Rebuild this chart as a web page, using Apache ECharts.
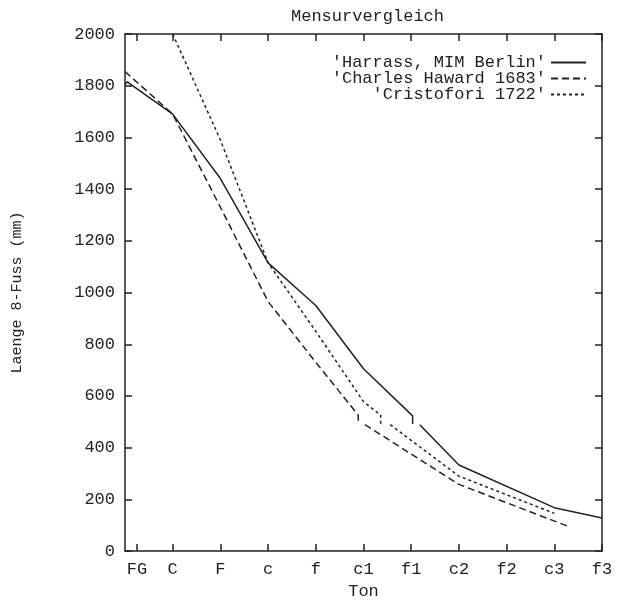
<!DOCTYPE html>
<html>
<head>
<meta charset="utf-8">
<title>Mensurvergleich</title>
<script src="https://cdn.jsdelivr.net/npm/echarts@6.0.0/dist/echarts.min.js"></script>
<style>
  html, body { margin: 0; padding: 0; background: #fff; }
  #chart { width: 617px; height: 605px; }
</style>
</head>
<body>
<div id="chart"></div>
<script>
// Ton-Achse: Position und Name der Teilstriche
var tonPos = [0.25, 1, 2, 3, 4, 5, 6, 7, 8, 9, 10];
var tonNames = ['FG', 'C', 'F', 'c', 'f', 'c1', 'f1', 'c2', 'f2', 'c3', 'f3'];

// Harrass, MIM Berlin (null = Unterbrechung der Linie)
var harrassX = [0, 0.05, 0.12, 1, 2, 3, 4, 5, 6.03, 6.03, 6.1, 6.18, 7, 9, 10];
var harrassY = [1805, 1815, 1805, 1690, 1441, 1115, 950, 705, 523, 492, null, 489, 333, 168, 128];

// Charles Haward 1683
var hawardX = [0, 1, 2, 3, 4, 4.89, 4.89, 4.95, 5.03, 7, 9.3];
var hawardY = [1855, 1690, 1330, 965, 730, 526, 491, null, 489, 258, 95];

// Cristofori 1722
var cristoforiX = [1, 2, 3, 4, 5, 5.36, 5.36, 5.45, 5.56, 7, 9];
var cristoforiY = [2000, 1590, 1115, 850, 578, 526, 491, null, 489, 290, 146];

var fontMono = '"Liberation Mono", "DejaVu Sans Mono", monospace';
var ink = '#222';

function pairs(xs, ys) {
	var out = [];
	for (var i = 0; i < xs.length; i++) {
		out.push([xs[i], ys[i]]);
	}
	return out;
}

function tonLabel(v) {
	for (var i = 0; i < tonPos.length; i++) {
		if (Math.abs(tonPos[i] - v) < 1e-6) return tonNames[i];
	}
	return '';
}

function legendFor(name, top) {
	return {
		data: [name],
		right: 30,
		top: top,
		orient: 'vertical',
		align: 'right',
		itemWidth: 35,
		itemHeight: 12,
		padding: 0,
		selectedMode: false,
		// nur die Linie, kein Symbol
		itemStyle: { opacity: 0 },
		textStyle: { fontFamily: fontMono, fontSize: 17, color: ink }
	};
}

var myChart = echarts.init(document.getElementById('chart'));

option = {
	animation: false,
	backgroundColor: '#fff',
	title: {
		text: 'Mensurvergleich',
		left: 286,
		top: 3,
		textStyle: { fontFamily: fontMono, fontSize: 17, fontWeight: 'normal', color: ink }
	},
	legend: [
		legendFor("'Harrass, MIM Berlin'", 54),
		legendFor("'Charles Haward 1683'", 70),
		legendFor("'Cristofori 1722'", 86)
	],
	grid: { left: 125, right: 15, top: 34, bottom: 45 },
	xAxis: [
		{
			type: 'value', min: 0, max: 10, position: 'bottom',
			name: 'Ton', nameLocation: 'middle', nameGap: 29,
			nameTextStyle: { fontFamily: fontMono, fontSize: 17, color: ink },
			axisLine: { show: true, onZero: false, lineStyle: { color: ink, width: 1.5 } },
			axisTick: { show: true, inside: true, length: 7, customValues: tonPos, lineStyle: { color: ink, width: 1.5 } },
			axisLabel: { customValues: tonPos, formatter: tonLabel, margin: 10, fontFamily: fontMono, fontSize: 17, color: ink },
			splitLine: { show: false }
		},
		{
			type: 'value', min: 0, max: 10, position: 'top',
			axisLine: { show: true, onZero: false, lineStyle: { color: ink, width: 1.5 } },
			axisTick: { show: true, inside: true, length: 7, customValues: tonPos, lineStyle: { color: ink, width: 1.5 } },
			axisLabel: { show: false },
			splitLine: { show: false }
		}
	],
	yAxis: [
		{
			type: 'value', min: 0, max: 2000, interval: 200, position: 'left',
			name: 'Laenge 8-Fuss (mm)', nameLocation: 'middle', nameGap: 100,
			nameTextStyle: { fontFamily: fontMono, fontSize: 15, color: ink },
			axisLine: { show: true, onZero: false, lineStyle: { color: ink, width: 1.5 } },
			axisTick: { show: true, inside: true, length: 7, lineStyle: { color: ink, width: 1.5 } },
			axisLabel: {
				margin: 10, fontFamily: fontMono, fontSize: 17, color: ink,
				formatter: function (v) { return String(v); }
			},
			splitLine: { show: false }
		},
		{
			type: 'value', min: 0, max: 2000, interval: 200, position: 'right',
			axisLine: { show: true, onZero: false, lineStyle: { color: ink, width: 1.5 } },
			axisTick: { show: true, inside: true, length: 7, lineStyle: { color: ink, width: 1.5 } },
			axisLabel: { show: false },
			splitLine: { show: false }
		}
	],
	series: [
		{
			name: "'Harrass, MIM Berlin'",
			type: 'line',
			data: pairs(harrassX, harrassY),
			showSymbol: false,
			symbol: 'none',
			connectNulls: false,
			clip: true,
			color: ink,
			lineStyle: { color: ink, width: 1.5, type: 'solid' }
		},
		{
			name: "'Charles Haward 1683'",
			type: 'line',
			data: pairs(hawardX, hawardY),
			showSymbol: false,
			symbol: 'none',
			connectNulls: false,
			clip: true,
			color: ink,
			lineStyle: { color: ink, width: 1.5, type: [7, 4] }
		},
		{
			name: "'Cristofori 1722'",
			type: 'line',
			data: pairs(cristoforiX, cristoforiY),
			showSymbol: false,
			symbol: 'none',
			connectNulls: false,
			clip: true,
			color: ink,
			lineStyle: { color: ink, width: 1.5, type: [3, 3] }
		}
	]
};

myChart.setOption(option);
window.onresize = myChart.resize;
</script>
</body>
</html>
